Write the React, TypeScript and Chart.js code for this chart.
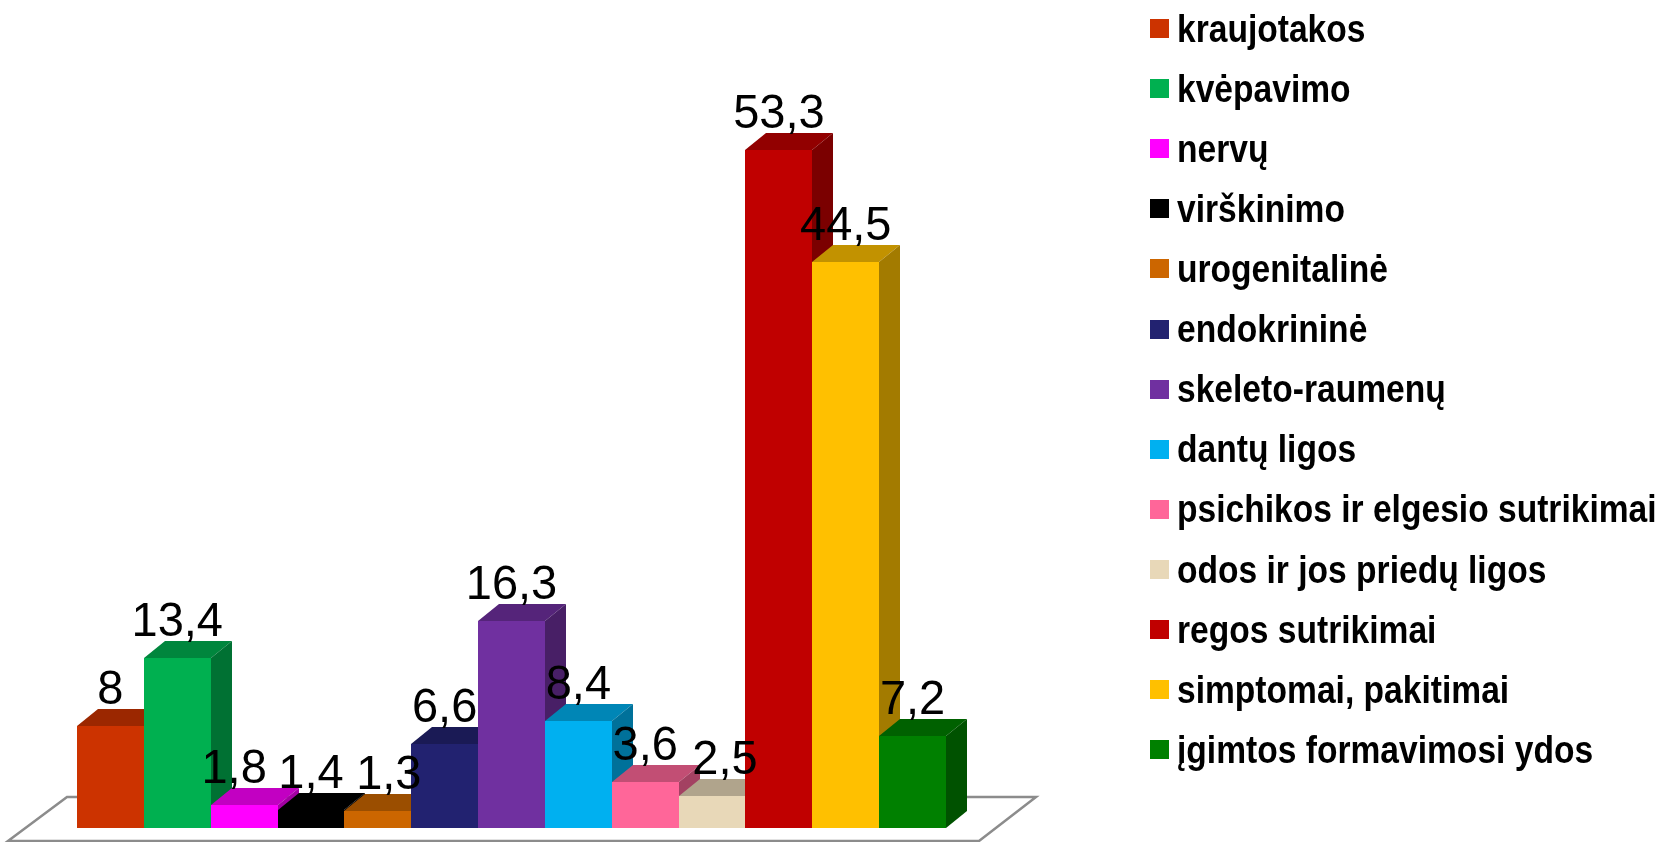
import React, { useEffect, useRef } from 'react';
import { Chart, registerables } from 'chart.js';

Chart.register(...registerables);

// ---- data ----
const categories = [
  'kraujotakos',
  'kvėpavimo',
  'nervų',
  'virškinimo',
  'urogenitalinė',
  'endokrininė',
  'skeleto-raumenų',
  'dantų ligos',
  'psichikos ir elgesio sutrikimai',
  'odos ir jos priedų ligos',
  'regos sutrikimai',
  'simptomai, pakitimai',
  'įgimtos formavimosi ydos',
];
const values = [8, 13.4, 1.8, 1.4, 1.3, 6.6, 16.3, 8.4, 3.6, 2.5, 53.3, 44.5, 7.2];
const colors = [
  '#CC3300',
  '#00B050',
  '#FF00FF',
  '#000000',
  '#CC6600',
  '#222270',
  '#7030A0',
  '#00B0F0',
  '#FF6699',
  '#E8D8B8',
  '#C00000',
  '#FFC000',
  '#008000',
];
// small horizontal label nudges (style only)
const labelNudgeX = [0, 0, -10, 0, 11, 0, 0, 0, 0, 13, 0, 0, 0];

const W = 1661;
const H = 842;
const PLOT_LEFT = 77;
const PLOT_RIGHT = 946;
const PLOT_TOP = 65;
const PLOT_BOTTOM = 828;
const DX = 21;
const DY = 17;

function shade(hex: string, f: number): string {
  const n = parseInt(hex.slice(1), 16);
  const r = Math.round(((n >> 16) & 255) * f);
  const g = Math.round(((n >> 8) & 255) * f);
  const b = Math.round((n & 255) * f);
  return `rgb(${r},${g},${b})`;
}

function fmt(v: number): string {
  return String(v).replace('.', ',');
}

const bars3d = {
  id: 'bars3d',
  beforeDatasetsDraw(chart: any) {
    const { ctx, chartArea: a } = chart;
    ctx.save();
    ctx.beginPath();
    ctx.moveTo(a.left - 69, a.bottom + 13);
    ctx.lineTo(a.right + 33, a.bottom + 13);
    ctx.lineTo(a.right + 90, a.bottom - 31);
    ctx.lineTo(a.left - 10, a.bottom - 31);
    ctx.closePath();
    ctx.fillStyle = '#ffffff';
    ctx.fill();
    ctx.strokeStyle = '#8c8c8c';
    ctx.lineWidth = 2.5;
    ctx.stroke();
    ctx.restore();
  },
  beforeDatasetDraw() {
    return false;
  },
  afterDatasetsDraw(chart: any) {
    const { ctx } = chart;
    const meta = chart.getDatasetMeta(0);
    ctx.save();
    meta.data.forEach((el: any, i: number) => {
      const { x, y, base, width } = el.getProps(['x', 'y', 'base', 'width'], true);
      const l = Math.round(x - width / 2);
      const r = Math.round(x + width / 2);
      const t = Math.round(y);
      const b = Math.round(base);
      const c = colors[i];
      ctx.fillStyle = c;
      ctx.fillRect(l, t, r - l, b - t);
      ctx.fillStyle = shade(c, 0.76);
      ctx.beginPath();
      ctx.moveTo(l, t);
      ctx.lineTo(l + DX, t - DY);
      ctx.lineTo(r + DX, t - DY);
      ctx.lineTo(r, t);
      ctx.closePath();
      ctx.fill();
      ctx.fillStyle = shade(c, 0.64);
      ctx.beginPath();
      ctx.moveTo(r, t);
      ctx.lineTo(r + DX, t - DY);
      ctx.lineTo(r + DX, b - DY);
      ctx.lineTo(r, b);
      ctx.closePath();
      ctx.fill();
    });
    // data labels
    ctx.fillStyle = '#000000';
    ctx.font = '47px "Liberation Sans", Arial, sans-serif';
    ctx.textAlign = 'center';
    ctx.textBaseline = 'alphabetic';
    meta.data.forEach((el: any, i: number) => {
      const { x, y } = el.getProps(['x', 'y'], true);
      ctx.save();
      ctx.translate(x + labelNudgeX[i], y - 22);
      ctx.scale(1, 1.03);
      ctx.fillText(fmt(values[i]), 0, 0);
      ctx.restore();
    });
    ctx.restore();
  },
};

const legendPlugin = {
  id: 'sideLegend',
  afterDraw(chart: any) {
    const { ctx } = chart;
    const labels: string[] = chart.data.labels;
    const bg: string[] = chart.data.datasets[0].backgroundColor;
    ctx.save();
    ctx.font = 'bold 33.6px "Liberation Sans", Arial, sans-serif';
    ctx.textAlign = 'left';
    ctx.textBaseline = 'alphabetic';
    labels.forEach((lab, i) => {
      const centerY = 28.5 + i * 60.1;
      ctx.fillStyle = bg[i];
      ctx.fillRect(1150, Math.round(centerY - 9.5), 19, 19);
      ctx.fillStyle = '#000000';
      ctx.save();
      ctx.translate(1177, centerY + 13.1);
      ctx.scale(1, 1.13);
      ctx.fillText(lab, 0, 0);
      ctx.restore();
    });
    ctx.restore();
  },
};

export default function App() {
  const ref = useRef<HTMLCanvasElement | null>(null);
  useEffect(() => {
    if (!ref.current) return;
    const chart = new Chart(ref.current, {
      type: 'bar',
      data: {
        labels: categories,
        datasets: [
          {
            data: values,
            backgroundColor: colors,
            borderWidth: 0,
            barPercentage: 1,
            categoryPercentage: 1,
          },
        ],
      },
      options: {
        responsive: false,
        animation: false,
        devicePixelRatio: 1,
        layout: {
          padding: { left: PLOT_LEFT, right: W - PLOT_RIGHT, top: PLOT_TOP, bottom: H - PLOT_BOTTOM },
        },
        plugins: { legend: { display: false }, tooltip: { enabled: false } },
        scales: {
          x: { display: false, offset: true, grid: { display: false } },
          y: { display: false, min: 0, max: 60 },
        },
      },
      plugins: [bars3d, legendPlugin],
    } as any);
    return () => chart.destroy();
  }, []);
  return (
    <div style={{ position: 'fixed', left: 0, top: 0, width: W, height: H, background: '#fff' }}>
      <canvas ref={ref} width={W} height={H} style={{ display: 'block' }} />
    </div>
  );
}
